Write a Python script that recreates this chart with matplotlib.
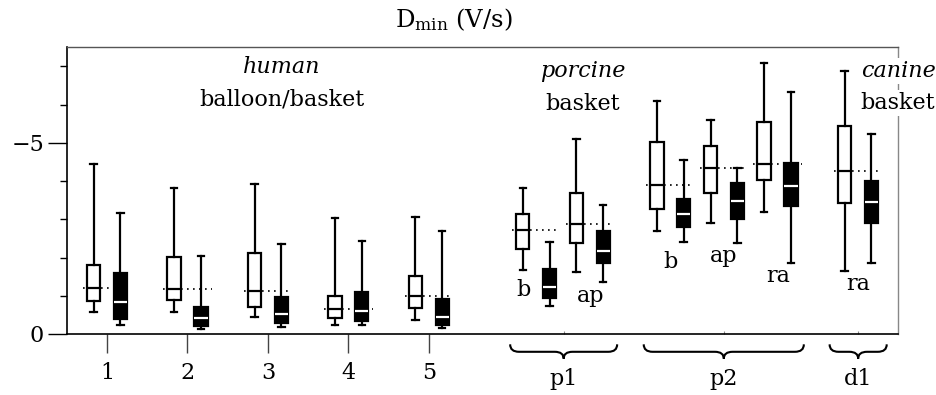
import matplotlib
matplotlib.use('Agg')
import matplotlib.pyplot as plt
from matplotlib.path import Path
from matplotlib.patches import PathPatch
from matplotlib.transforms import blended_transform_factory
from matplotlib.ticker import FixedLocator

plt.rcParams['font.family'] = ['DejaVu Serif']
plt.rcParams['mathtext.fontset'] = 'dejavuserif'

# ---------------- data (D_min, V/s) ----------------
box_groups = ["1", "2", "3", "4", "5", "p1 b", "p1 ap", "p2 b", "p2 ap", "p2 ra", "d1 ra"]

# white boxes
white_lo   = [-0.58, -0.57, -0.44, -0.24, -0.37, -1.68, -1.61, -2.70, -2.90, -3.18, -1.65]
white_qlo  = [-0.87, -0.89, -0.70, -0.43, -0.67, -2.23, -2.38, -3.28, -3.70, -4.02, -3.43]
white_med  = [-1.21, -1.19, -1.13, -0.65, -0.99, -2.71, -2.87, -3.89, -4.35, -4.46, -4.26]
white_qhi  = [-1.81, -2.01, -2.12, -1.00, -1.51, -3.15, -3.68, -5.02, -4.93, -5.55, -5.44]
white_hi   = [-4.45, -3.83, -3.93, -3.03, -3.05, -3.83, -5.09, -6.11, -5.60, -7.09, -6.87]

# black boxes
black_lo   = [-0.23, -0.13, -0.18, -0.23, -0.15, -0.72, -1.36, -2.40, -2.39, -1.87, -1.87]
black_qlo  = [-0.38, -0.21, -0.30, -0.35, -0.24, -0.93, -1.87, -2.80, -3.00, -3.36, -2.90]
black_med  = [-0.84, -0.42, -0.52, -0.59, -0.45, -1.24, -2.18, -3.14, -3.47, -3.86, -3.45]
black_qhi  = [-1.59, -0.70, -0.98, -1.09, -0.92, -1.69, -2.70, -3.53, -3.94, -4.48, -4.01]
black_hi   = [-3.16, -2.03, -2.36, -2.43, -2.70, -2.40, -3.38, -4.56, -4.35, -6.34, -5.24]

x_tick_labels = ["1", "2", "3", "4", "5"]
group_labels = ["p1", "p2", "d1"]
sub_labels = ["b", "ap", "b", "ap", "ra", "ra"]
y_major_ticks = [0, -5]
y_minor_ticks = [-1, -2, -3, -4, -6, -7]

# ---------------- layout ----------------
pair_centers = [1, 2, 3, 4, 5, 6.333, 7.0, 8.0, 8.667, 9.333, 10.333]
off = 1 / 6
white_pos = [c - off for c in pair_centers]
black_pos = [c + off for c in pair_centers]
brace_spans = [(6.01, 7.34), (7.67, 9.66), (9.98, 10.69)]
sub_label_pos = [(6.18, -0.99), (7.01, -0.85), (8.0, -1.73), (8.66, -1.88), (9.34, -1.37), (10.33, -1.15)]

FS = 16

fig = plt.figure(figsize=(9.37, 3.95), dpi=100)
ax = fig.add_axes([67 / 937, 1 - 334 / 395, (898 - 67) / 937, (334 - 47) / 395])


def stats(lo, qlo, med, qhi, hi):
    return [dict(whislo=a, q1=b, med=c, q3=d, whishi=e, fliers=[])
            for a, b, c, d, e in zip(lo, qlo, med, qhi, hi)]


W = 0.165
CW = 0.08
LW = 1.6

# dotted reference lines at white medians
ax.hlines(white_med, [c - 0.30 for c in pair_centers], [c + 0.30 for c in pair_centers],
          colors='black', linestyles=(0, (1, 2.6)), linewidth=1.2, zorder=1)

ax.bxp(stats(white_lo, white_qlo, white_med, white_qhi, white_hi), positions=white_pos,
       widths=W, capwidths=CW, patch_artist=True, showfliers=False, manage_ticks=False,
       boxprops=dict(facecolor='white', edgecolor='black', linewidth=LW),
       medianprops=dict(color='black', linewidth=LW),
       whiskerprops=dict(color='black', linewidth=LW),
       capprops=dict(color='black', linewidth=LW), zorder=3)

ax.bxp(stats(black_lo, black_qlo, black_med, black_qhi, black_hi), positions=black_pos,
       widths=W, capwidths=CW, patch_artist=True, showfliers=False, manage_ticks=False,
       boxprops=dict(facecolor='black', edgecolor='black', linewidth=LW),
       medianprops=dict(color='white', linewidth=LW),
       whiskerprops=dict(color='black', linewidth=LW),
       capprops=dict(color='black', linewidth=LW), zorder=3)

ax.set_xlim(0.503, 10.83)
ax.set_ylim(0, -7.51)

# spines
ax.spines['left'].set_linewidth(1.2)
ax.spines['bottom'].set_linewidth(1.2)
ax.spines['top'].set_color('#555555')
ax.spines['top'].set_linewidth(1.0)
ax.spines['right'].set_color('#888888')
ax.spines['right'].set_linewidth(1.0)

# y ticks
ax.set_yticks(y_major_ticks)
ax.set_yticklabels(['0', '\u22125'], fontsize=FS)
ax.yaxis.set_minor_locator(FixedLocator(y_minor_ticks))
ax.tick_params(axis='y', which='major', length=13.5, width=1.0, pad=3, direction='out')
ax.tick_params(axis='y', which='minor', length=5, width=1.0, direction='out')

# x ticks
ax.set_xticks([1, 2, 3, 4, 5])
ax.set_xticklabels(x_tick_labels, fontsize=FS)
ax.tick_params(axis='x', which='major', length=13.5, width=1.0, color='#444444', pad=7)
ax.xaxis.set_minor_locator(FixedLocator([sum(s) / 2 for s in brace_spans]))
ax.tick_params(axis='x', which='minor', length=2, width=0.8, color='#888888', direction='in')

# text annotations
ax.text(3.17, -6.84, 'human', style='italic', ha='center', va='baseline', fontsize=FS)
ax.text(3.17, -5.97, 'balloon/basket', ha='center', va='baseline', fontsize=FS)
ax.text(6.91, -6.73, 'porcine', style='italic', ha='center', va='baseline', fontsize=FS)
ax.text(6.91, -5.86, 'basket', ha='center', va='baseline', fontsize=FS)
tr_r = blended_transform_factory(ax.transAxes, ax.transData)
ax.text(1.0, -6.73, 'canine', style='italic', ha='center', va='baseline', fontsize=FS,
        transform=tr_r, zorder=5, clip_on=False,
        bbox=dict(facecolor='white', edgecolor='none', pad=1.5))
ax.text(1.0, -5.90, 'basket', ha='center', va='baseline', fontsize=FS,
        transform=tr_r, zorder=5, clip_on=False,
        bbox=dict(facecolor='white', edgecolor='none', pad=1.5))

for (x, y), lab in zip(sub_label_pos, sub_labels):
    ax.text(x, y, lab, ha='center', va='baseline', fontsize=FS)

# braces below the axis
tr_b = blended_transform_factory(ax.transData, ax.transAxes)
yt, ym, yb = -0.036, -0.062, -0.086
q = 0.11
for (x0, x1), lab in zip(brace_spans, group_labels):
    xc = (x0 + x1) / 2
    verts = [(x0, yt), (x0, ym), (x0 + q, ym), (xc - q, ym), (xc, ym), (xc, yb),
             (xc, ym), (xc + q, ym), (x1 - q, ym), (x1, ym), (x1, yt)]
    codes = [Path.MOVETO, Path.CURVE3, Path.CURVE3, Path.LINETO, Path.CURVE3, Path.CURVE3,
             Path.CURVE3, Path.CURVE3, Path.LINETO, Path.CURVE3, Path.CURVE3]
    ax.add_patch(PathPatch(Path(verts, codes), facecolor='none', edgecolor='black',
                           linewidth=1.5, transform=tr_b, clip_on=False))
    ax.text(xc, -0.178, lab, ha='center', va='baseline', fontsize=FS, transform=tr_b)

fig.text(454 / 937, 1 - 27 / 395, r'D$_{\mathrm{min}}$ (V/s)', ha='center', va='baseline',
         fontsize=17.5)

fig.savefig('out.png', dpi=100)
